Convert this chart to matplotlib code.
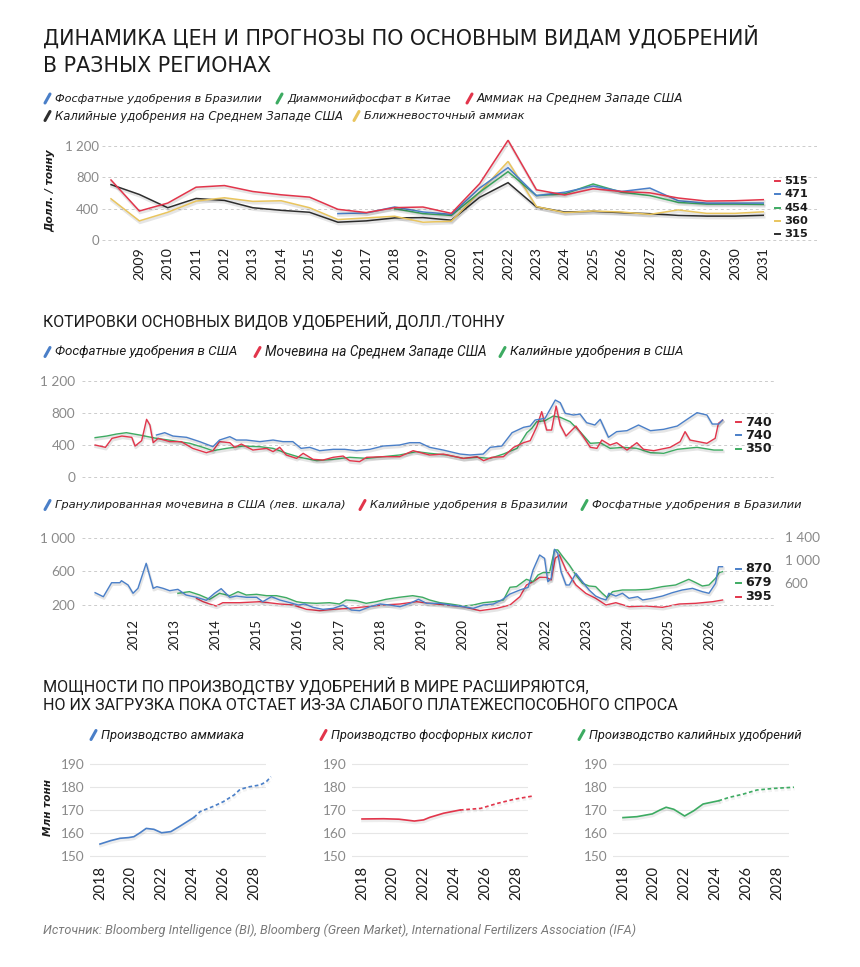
import matplotlib
matplotlib.use('Agg')
import matplotlib.pyplot as plt
import numpy as np
from matplotlib import font_manager
from matplotlib.lines import Line2D
import matplotlib.patheffects as pe

# ---------------- DATA ----------------
# Chart 1: annual prices and forecasts, USD/t
years1 = list(range(2008, 2032))
ammonia_us = [766, 370, 471, 674, 695, 619, 577, 547, 392, 350, 413, 421, 340, 720, 1273, 641, 575, 654, 619, 602, 536, 497, 501, 515]
potash_us = [707, 581, 412, 530, 505, 412, 379, 354, 227, 244, 282, 286, 253, 545, 732, 423, 357, 366, 349, 336, 314, 305, 305, 315]
me_ammonia = [526, 244, 354, 497, 539, 493, 501, 412, 261, 282, 303, 227, 240, 610, 1003, 427, 349, 370, 357, 327, 384, 340, 340, 360]
years_phos_br = list(range(2016, 2032))
phos_brazil = [337, 345, 421, 358, 327, 663, 924, 567, 610, 689, 619, 663, 501, 471, 471, 471]
years_dap = list(range(2018, 2032))
dap_china = [400, 337, 314, 610, 872, 567, 589, 715, 610, 567, 480, 458, 458, 454]
end1_vals = [515, 471, 454, 360, 315]
ticks1 = list(range(2009, 2032))
yticks1 = [0, 400, 800, 1200]
ylabels1 = ['0', '400', '800', '1 200']

# Chart 2: quotes, USD/t
pus_t = [2012.57, 2012.77, 2012.97, 2013.3, 2013.62, 2013.94, 2014.1, 2014.35, 2014.51, 2014.75, 2015.08, 2015.4, 2015.64, 2015.88, 2016.08, 2016.29, 2016.53, 2016.86, 2017.14, 2017.42, 2017.75, 2018.07, 2018.47, 2018.72, 2018.96, 2019.2, 2019.53, 2019.94, 2020.18, 2020.5, 2020.67, 2020.95, 2021.2, 2021.48, 2021.64, 2021.76, 2022.0, 2022.25, 2022.37, 2022.49, 2022.69, 2022.85, 2023.01, 2023.21, 2023.34, 2023.54, 2023.74, 2023.99, 2024.27, 2024.56, 2024.88, 2025.21, 2025.45, 2025.69, 2025.93, 2026.06, 2026.22, 2026.31]
pus_v = [525, 554, 512, 496, 442, 379, 462, 504, 462, 462, 442, 462, 442, 442, 358, 371, 329, 346, 346, 329, 346, 387, 400, 429, 429, 371, 337, 287, 275, 287, 371, 387, 554, 621, 637, 712, 733, 962, 929, 796, 775, 787, 679, 650, 721, 496, 567, 579, 650, 579, 596, 637, 721, 804, 775, 662, 662, 712]
urea_mw_t = [2011.08, 2011.33, 2011.49, 2011.73, 2011.97, 2012.05, 2012.21, 2012.33, 2012.41, 2012.49, 2012.61, 2012.89, 2013.17, 2013.45, 2013.78, 2013.94, 2014.1, 2014.35, 2014.47, 2014.63, 2014.91, 2015.24, 2015.4, 2015.56, 2015.72, 2015.97, 2016.13, 2016.37, 2016.61, 2016.86, 2017.1, 2017.26, 2017.5, 2017.67, 2018.07, 2018.47, 2018.8, 2019.2, 2019.53, 2020.02, 2020.35, 2020.51, 2020.71, 2020.99, 2021.24, 2021.48, 2021.64, 2021.8, 2021.92, 2022.04, 2022.16, 2022.27, 2022.37, 2022.51, 2022.75, 2022.93, 2023.1, 2023.26, 2023.38, 2023.58, 2023.74, 2023.99, 2024.23, 2024.39, 2024.64, 2025.04, 2025.28, 2025.4, 2025.52, 2025.93, 2026.13, 2026.21, 2026.31]
urea_mw_v = [400, 371, 483, 512, 496, 387, 454, 721, 650, 429, 483, 442, 442, 358, 304, 329, 442, 429, 371, 412, 337, 358, 317, 371, 275, 233, 296, 221, 212, 246, 262, 204, 192, 246, 254, 254, 329, 275, 287, 233, 254, 204, 246, 254, 371, 429, 454, 629, 817, 587, 587, 887, 650, 512, 637, 504, 371, 358, 462, 400, 429, 337, 429, 346, 329, 371, 442, 567, 462, 421, 483, 671, 712]
kus_t = [2011.08, 2011.36, 2011.6, 2011.84, 2012.16, 2012.57, 2012.97, 2013.38, 2013.7, 2013.94, 2014.27, 2014.67, 2015.08, 2015.4, 2015.73, 2016.05, 2016.46, 2016.86, 2017.26, 2017.67, 2018.07, 2018.47, 2018.88, 2019.2, 2019.62, 2020.02, 2020.35, 2020.67, 2020.99, 2021.32, 2021.56, 2021.68, 2021.8, 2022.0, 2022.2, 2022.37, 2022.61, 2022.85, 2023.1, 2023.34, 2023.58, 2023.91, 2024.23, 2024.56, 2024.88, 2025.21, 2025.69, 2026.1, 2026.31]
kus_v = [492, 512, 537, 554, 525, 483, 454, 421, 371, 329, 358, 387, 379, 358, 296, 246, 204, 221, 246, 233, 254, 275, 317, 296, 275, 233, 246, 233, 287, 358, 554, 608, 692, 704, 762, 746, 692, 567, 421, 429, 358, 371, 358, 304, 296, 346, 371, 337, 337]
end2_vals = [740, 740, 350]
yticks2 = [0, 400, 800, 1200]
ylabels2 = ['0', '400', '800', '1 200']

# Chart 3: granulated urea USA (left axis), Brazil potash & phosphate (right axis)
gur_t = [2011.08, 2011.28, 2011.48, 2011.68, 2011.72, 2011.88, 2012.0, 2012.12, 2012.32, 2012.49, 2012.58, 2012.73, 2012.89, 2013.09, 2013.29, 2013.54, 2013.78, 2013.98, 2014.14, 2014.35, 2014.51, 2014.75, 2015.0, 2015.15, 2015.36, 2015.56, 2015.81, 2016.01, 2016.17, 2016.37, 2016.61, 2016.86, 2017.1, 2017.3, 2017.5, 2017.75, 2018.0, 2018.23, 2018.48, 2018.72, 2018.93, 2019.13, 2019.45, 2019.7, 2020.02, 2020.26, 2020.5, 2020.75, 2020.95, 2021.15, 2021.39, 2021.59, 2021.71, 2021.87, 2021.99, 2022.07, 2022.15, 2022.23, 2022.31, 2022.39, 2022.51, 2022.59, 2022.75, 2022.91, 2023.07, 2023.23, 2023.35, 2023.48, 2023.55, 2023.72, 2023.88, 2024.04, 2024.25, 2024.37, 2024.61, 2024.85, 2025.09, 2025.33, 2025.58, 2025.82, 2025.98, 2026.14, 2026.21, 2026.31]
gur_v = [347, 299, 466, 466, 490, 439, 340, 399, 698, 399, 419, 399, 371, 387, 319, 292, 256, 340, 395, 292, 307, 292, 292, 240, 299, 260, 228, 200, 212, 172, 148, 160, 200, 140, 132, 180, 212, 200, 180, 220, 268, 220, 220, 200, 180, 160, 200, 212, 260, 331, 379, 411, 618, 797, 757, 478, 518, 865, 818, 598, 439, 439, 578, 478, 379, 307, 280, 260, 340, 307, 340, 280, 299, 260, 280, 307, 347, 379, 399, 359, 340, 459, 657, 657]
kbr_t = [2013.54, 2013.7, 2013.86, 2014.02, 2014.18, 2014.59, 2015.08, 2015.56, 2015.89, 2016.21, 2016.53, 2016.86, 2017.26, 2017.66, 2018.07, 2018.48, 2018.88, 2019.2, 2019.62, 2020.02, 2020.42, 2020.83, 2021.15, 2021.39, 2021.55, 2021.71, 2021.87, 2022.03, 2022.15, 2022.25, 2022.35, 2022.51, 2022.75, 2022.99, 2023.23, 2023.48, 2023.72, 2024.04, 2024.45, 2024.85, 2025.26, 2025.66, 2026.07, 2026.31]
kbr_v = [319, 259, 218, 182, 241, 241, 259, 218, 200, 123, 99, 123, 141, 170, 200, 218, 259, 230, 200, 170, 99, 141, 200, 348, 556, 615, 692, 692, 645, 1031, 1090, 823, 556, 408, 319, 200, 241, 170, 182, 159, 218, 230, 259, 289]
pbr_t = [2013.09, 2013.37, 2013.62, 2013.86, 2014.1, 2014.35, 2014.55, 2014.75, 2015.0, 2015.24, 2015.48, 2015.72, 2015.97, 2016.13, 2016.45, 2016.77, 2017.01, 2017.17, 2017.41, 2017.66, 2017.9, 2018.14, 2018.46, 2018.79, 2019.03, 2019.2, 2019.45, 2019.7, 2020.02, 2020.26, 2020.5, 2020.75, 2020.99, 2021.15, 2021.31, 2021.55, 2021.71, 2021.83, 2021.95, 2022.11, 2022.23, 2022.31, 2022.43, 2022.59, 2022.75, 2022.91, 2023.07, 2023.23, 2023.39, 2023.51, 2023.64, 2023.88, 2024.2, 2024.52, 2024.85, 2025.17, 2025.49, 2025.66, 2025.82, 2025.98, 2026.14, 2026.23, 2026.31]
pbr_v = [408, 437, 378, 301, 408, 366, 437, 378, 390, 366, 366, 330, 259, 241, 230, 241, 218, 289, 277, 230, 259, 301, 337, 366, 337, 289, 241, 218, 182, 200, 241, 259, 289, 515, 527, 657, 615, 734, 776, 776, 1179, 1179, 1060, 912, 734, 586, 538, 527, 408, 330, 437, 467, 467, 479, 527, 556, 657, 598, 538, 556, 675, 776, 794]
end3_vals = [870, 679, 395]
ticks3 = list(range(2012, 2027))
yticks3_left = [200, 600, 1000]
ylabels3_left = ['200', '600', '1 000']
yticks3_right = [600, 1000, 1400]
ylabels3_right = ['600', '1 000', '1 400']

# Bottom panels: world capacity, mln t (actual + forecast)
amm_act_t = [2018.0, 2018.7, 2019.3, 2019.85, 2020.2, 2020.6, 2021.0, 2021.5, 2022.0, 2022.6, 2023.2, 2024.1]
amm_act_v = [155.2, 156.7, 157.7, 158.0, 158.4, 160.1, 162.0, 161.6, 160.1, 160.6, 163.0, 166.8]
amm_fc_t = [2024.1, 2024.5, 2025.4, 2026.0, 2026.7, 2027.1, 2027.7, 2028.4, 2028.8, 2029.1]
amm_fc_v = [166.8, 169.3, 171.7, 173.6, 176.5, 179.0, 180.1, 180.9, 182.3, 184.5]
phac_act_t = [2018.0, 2019.4, 2020.4, 2021.4, 2022.0, 2022.4, 2023.3, 2024.36]
phac_act_v = [166.1, 166.2, 166.0, 165.2, 165.7, 166.8, 168.6, 170.0]
phac_fc_t = [2024.36, 2025.7, 2026.8, 2027.9, 2029.1]
phac_fc_v = [170.0, 170.7, 172.9, 174.7, 176.1]
pot_act_t = [2018.0, 2018.9, 2019.9, 2020.4, 2020.8, 2021.3, 2022.0, 2022.6, 2023.2, 2024.2]
pot_act_v = [166.7, 167.1, 168.3, 170.0, 171.2, 170.3, 167.4, 169.7, 172.6, 174.0]
pot_fc_t = [2024.2, 2024.9, 2025.8, 2026.7, 2027.8, 2029.1]
pot_fc_v = [174.0, 175.5, 176.9, 178.7, 179.4, 179.9]
ticks_b = [2018, 2020, 2022, 2024, 2026, 2028]
yticks_b = [150, 160, 170, 180, 190]

# ---------------- STYLE ----------------
C_BLUE = '#4a7fc8'
C_GREEN = '#3dab62'
C_RED = '#e2354b'
C_BLACK = '#2e2e2e'
C_YEL = '#e9c55e'
GRID = '#cccccc'
TICKC = '#8a8a8a'
TXT = '#1c1c1c'

W, H = 860, 967
fig = plt.figure(figsize=(W / 100, H / 100), dpi=100)
fig.patch.set_facecolor('white')


def avail(names):
    for n in names:
        try:
            font_manager.findfont(font_manager.FontProperties(family=n), fallback_to_default=False)
            return n
        except Exception:
            pass
    return 'DejaVu Sans'


F_WIDE = 'DejaVu Sans'
F_NARROW = avail(['Roboto', 'Liberation Sans'])
F_NUM = avail(['Lato', 'Open Sans', 'DejaVu Sans'])

renderer = fig.canvas.get_renderer()


def fit_text(x, y, s, target_w, fs0=10, rotation=0, **kw):
    t = fig.text(x / W, 1 - y / H, s, fontsize=fs0, **kw)
    w = t.get_window_extent(renderer=renderer).width
    t.set_fontsize(fs0 * target_w / w)
    if rotation:
        t.set_rotation(rotation)
    return t


def slash(x, y, color):
    fig.add_artist(Line2D([x / W, (x + 5) / W], [1 - (y + 4.5) / H, 1 - (y - 4.5) / H],
                          color=color, lw=2.2, solid_capstyle='round', transform=fig.transFigure))


def dash(x, y, color, length=5):
    fig.add_artist(Line2D([x / W, (x + length) / W], [1 - y / H, 1 - y / H],
                          color=color, lw=1.4, transform=fig.transFigure))


def px_axes(x0, y0, x1, y1):
    ax = fig.add_axes([x0 / W, 1 - y1 / H, (x1 - x0) / W, (y1 - y0) / H])
    ax.set_facecolor('none')
    for s in ax.spines.values():
        s.set_visible(False)
    ax.tick_params(length=0)
    return ax


def shadow(lw, alpha=0.1):
    return [pe.SimpleLineShadow(offset=(0.5, -1.3), shadow_color='#000000', alpha=alpha, linewidth=lw + 1.0),
            pe.Normal()]


def legend_item(x, y, color, text, target_w, family=F_WIDE):
    slash(x, y, color)
    fit_text(x + 10, y, text, target_w, va='center', ha='left', family=family,
             style='italic', color=TXT)


# ---------------- TITLE + LEGEND 1 ----------------
t1 = fit_text(43, 37, 'ДИНАМИКА ЦЕН И ПРОГНОЗЫ ПО ОСНОВНЫМ ВИДАМ УДОБРЕНИЙ', 714,
              family=F_WIDE, va='center', ha='left', color=TXT)
fig.text(43 / W, 1 - 65.5 / H, 'В РАЗНЫХ РЕГИОНАХ', fontsize=t1.get_fontsize(),
         family=F_WIDE, va='center', ha='left', color=TXT)

legend_item(45, 98.5, C_BLUE, 'Фосфатные удобрения в Бразилии', 208)
legend_item(277, 98.5, C_GREEN, 'Диаммонийфосфат в Китае', 165)
legend_item(467, 98.5, C_RED, 'Аммиак на Среднем Западе США', 207)
legend_item(45, 116, C_BLACK, 'Калийные удобрения на Среднем Западе США', 287)
legend_item(354, 116, C_YEL, 'Ближневосточный аммиак', 160)

# ---------------- CHART 1 ----------------
ax1 = px_axes(102, 130, 817, 243)
ax1.set_xlim(2007.683, 2032.894)
ax1.set_ylim(-38.3, 1404)
ax1.set_yticks(yticks1)
ax1.set_yticklabels(ylabels1, family=F_NUM, color=TICKC, fontsize=9.5)
ax1.yaxis.grid(True, ls=(0, (3, 3)), color=GRID, lw=0.7)
ax1.set_axisbelow(True)
ax1.set_xticks(ticks1)
ax1.set_xticklabels([str(v) for v in ticks1], rotation=90, color=TXT, fontsize=10.3, family=F_NUM)
ax1.tick_params(axis='x', pad=3)
ax1.tick_params(axis='y', pad=2)
lw1 = 1.1
for xs, ys, c in [(years1, potash_us, C_BLACK), (years1, me_ammonia, C_YEL),
                  (years_dap, dap_china, C_GREEN), (years_phos_br, phos_brazil, C_BLUE),
                  (years1, ammonia_us, C_RED)]:
    ax1.plot(xs, ys, color=c, lw=lw1, path_effects=shadow(lw1), solid_joinstyle='miter')

fit_text(50, 191, 'Долл. / тонну', 83, rotation=90, family=F_WIDE, fontweight='bold',
         style='italic', color=TXT, ha='center', va='center')

end1_cols = [C_RED, C_BLUE, C_GREEN, C_YEL, C_BLACK]
for i, (v, c) in enumerate(zip(end1_vals, end1_cols)):
    yy = 181 + i * 13.3
    dash(775, yy, c, 5)
    fig.text(784 / W, 1 - yy / H, str(v), fontsize=8.2, fontweight='bold', color=TXT,
             family=F_WIDE, va='center', ha='left')

# ---------------- SECTION 2 ----------------
fit_text(43, 321, 'КОТИРОВКИ ОСНОВНЫХ ВИДОВ УДОБРЕНИЙ, ДОЛЛ./ТОННУ', 460,
         family=F_NARROW, va='center', ha='left', color=TXT)
legend_item(45, 352, C_BLUE, 'Фосфатные удобрения в США', 183, family=F_NARROW)
legend_item(255, 352, C_RED, 'Мочевина на Среднем Западе США', 222, family=F_NARROW)
legend_item(500, 352, C_GREEN, 'Калийные удобрения в США', 173, family=F_NARROW)

XL = (2010.762, 2027.583)
ax2 = px_axes(82, 375, 775, 480)
ax2.set_xlim(*XL)
ax2.set_ylim(-37.5, 1275)
ax2.set_yticks(yticks2)
ax2.set_yticklabels(ylabels2, family=F_NUM, color=TICKC, fontsize=9.8)
ax2.yaxis.grid(True, ls=(0, (3, 3)), color=GRID, lw=0.7)
ax2.set_axisbelow(True)
ax2.set_xticks([])
ax2.tick_params(axis='y', pad=5)
lw2 = 1.0
for xs, ys, c in [(kus_t, kus_v, C_GREEN), (urea_mw_t, urea_mw_v, C_RED), (pus_t, pus_v, C_BLUE)]:
    ax2.plot(xs, ys, color=c, lw=lw2, path_effects=shadow(lw2))

end2_cols = [C_RED, C_BLUE, C_GREEN]
for i, (v, c) in enumerate(zip(end2_vals, end2_cols)):
    yy = 422 + i * 13.5
    dash(736, yy, c, 5)
    fig.text(745 / W, 1 - yy / H, str(v), fontsize=9.2, fontweight='bold', color=TXT,
             family=F_WIDE, va='center', ha='left')

# ---------------- CHART 3 ----------------
legend_item(45, 505, C_BLUE, 'Гранулированная мочевина в США (лев. шкала)', 291)
legend_item(360, 505, C_RED, 'Калийные удобрения в Бразилии', 198)
legend_item(582, 505, C_GREEN, 'Фосфатные удобрения в Бразилии', 210)

ax3 = px_axes(82, 530, 775, 612)
ax3.set_xlim(*XL)
ax3.set_ylim(116.4, 1095.5)
ax3.set_yticks(yticks3_left)
ax3.set_yticklabels(ylabels3_left, family=F_NUM, color=TICKC, fontsize=9.8)
ax3.yaxis.grid(True, ls=(0, (3, 3)), color=GRID, lw=0.7)
ax3.set_axisbelow(True)
ax3.set_xticks(ticks3)
ax3.set_xticklabels([str(v) for v in ticks3], rotation=90, color=TXT, fontsize=9.6, family=F_NUM)
ax3.tick_params(axis='x', pad=5)
ax3.tick_params(axis='y', pad=5)
ax3r = ax3.twinx()
for s in ax3r.spines.values():
    s.set_visible(False)
ax3r.set_ylim(75.6, 1533.3)
ax3r.set_yticks(yticks3_right)
ax3r.set_yticklabels(ylabels3_right, family=F_NUM, color=TICKC, fontsize=9.8)
ax3r.tick_params(length=0, pad=7)
lw3 = 1.0
ax3r.plot(kbr_t, kbr_v, color=C_RED, lw=lw3, path_effects=shadow(lw3), clip_on=False)
ax3r.plot(pbr_t, pbr_v, color=C_GREEN, lw=lw3, path_effects=shadow(lw3), clip_on=False)
# granulated urea on the left scale, drawn above the right-axis series
ax3.set_zorder(ax3r.get_zorder() + 1)
ax3.patch.set_visible(False)
ax3.plot(gur_t, gur_v, color=C_BLUE, lw=lw3, path_effects=shadow(lw3), clip_on=False)

end3_cols = [C_BLUE, C_GREEN, C_RED]
for i, (v, c) in enumerate(zip(end3_vals, end3_cols)):
    yy = 569 + i * 14
    dash(736, yy, c, 5)
    fig.text(745 / W, 1 - yy / H, str(v), fontsize=9.2, fontweight='bold', color=TXT,
             family=F_WIDE, va='center', ha='left')

# ---------------- SECTION 4 ----------------
s4 = fit_text(43, 686, 'МОЩНОСТИ ПО ПРОИЗВОДСТВУ УДОБРЕНИЙ В МИРЕ РАСШИРЯЮТСЯ,', 547,
              family=F_NARROW, va='center', ha='left', color=TXT)
fig.text(43 / W, 1 - 705 / H, 'НО ИХ ЗАГРУЗКА ПОКА ОТСТАЕТ ИЗ-ЗА СЛАБОГО ПЛАТЕЖЕСПОСОБНОГО СПРОСА',
         fontsize=s4.get_fontsize(), family=F_NARROW, va='center', ha='left', color=TXT)

legend_item(91, 735, C_BLUE, 'Производство аммиака', 143, family=F_NARROW)
legend_item(321, 735, C_RED, 'Производство фосфорных кислот', 201, family=F_NARROW)
legend_item(579, 735, C_GREEN, 'Производство калийных удобрений', 212, family=F_NARROW)

panels = [(90, C_BLUE, amm_act_t, amm_act_v, amm_fc_t, amm_fc_v),
          (352, C_RED, phac_act_t, phac_act_v, phac_fc_t, phac_fc_v),
          (613, C_GREEN, pot_act_t, pot_act_v, pot_fc_t, pot_fc_v)]
lwb = 1.2
for x0, c, at, av, ft, fv in panels:
    axb = px_axes(x0, 760, x0 + 176, 858)
    axb.set_xlim(2017.35, 2028.78)
    axb.set_ylim(149.13, 191.74)
    axb.set_yticks(yticks_b)
    axb.set_yticklabels([str(v) for v in yticks_b], family=F_NUM, color=TICKC, fontsize=9.8)
    axb.yaxis.grid(True, ls='-', color='#e6e6e6', lw=0.8)
    axb.set_axisbelow(True)
    axb.set_xticks(ticks_b)
    axb.set_xticklabels([str(v) for v in ticks_b], rotation=90, color=TXT, fontsize=10.5, family=F_NUM)
    axb.tick_params(axis='x', pad=6)
    axb.tick_params(axis='y', pad=4)
    axb.plot(at, av, color=c, lw=lwb, path_effects=shadow(lwb, 0.07), clip_on=False)
    axb.plot(ft, fv, color=c, lw=lwb, ls=(0, (2.2, 1.6)), clip_on=False,
             path_effects=shadow(lwb, 0.05))

fit_text(48, 808, 'Млн тонн', 57, rotation=90, family=F_WIDE, fontweight='bold',
         style='italic', color=TXT, ha='center', va='center')

fit_text(43, 930, 'Источник: Bloomberg Intelligence (BI), Bloomberg (Green Market), International Fertilizers Association (IFA)',
         591, family=F_NARROW, style='italic', color='#7a7a7a', va='center', ha='left')

fig.savefig('out.png', dpi=100, facecolor='white')
